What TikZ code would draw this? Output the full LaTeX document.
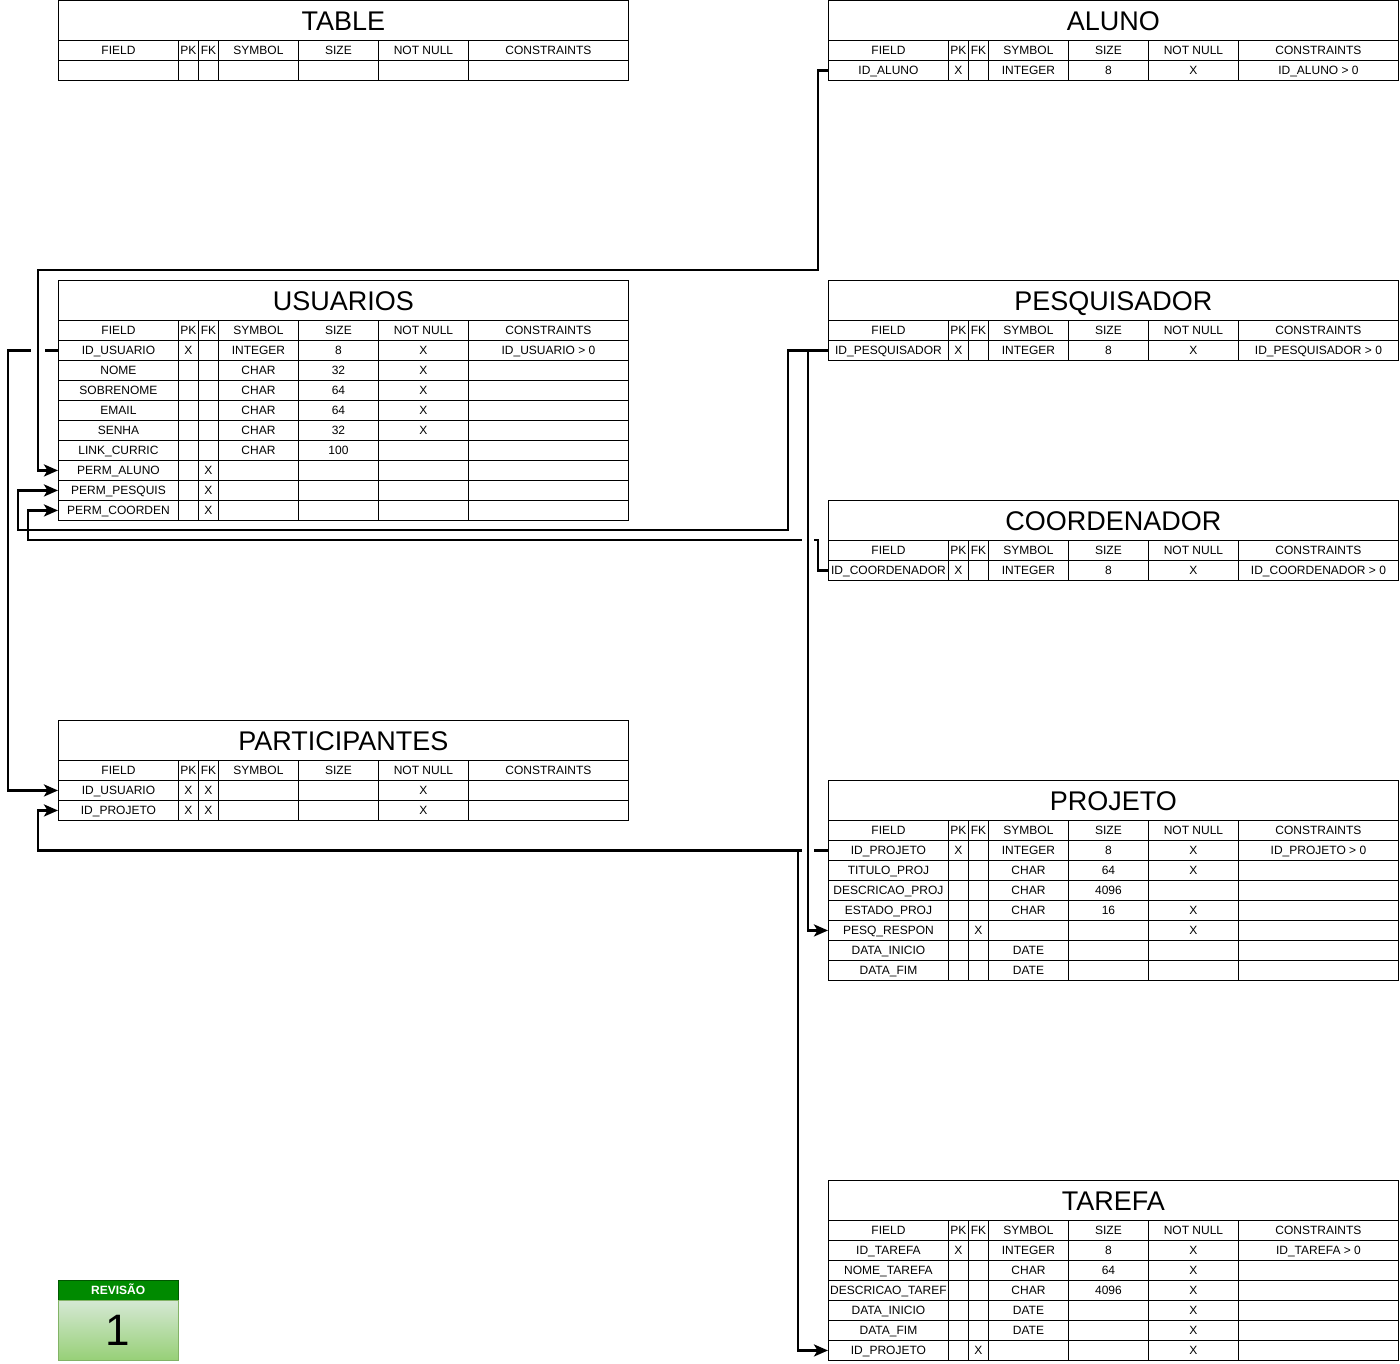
\documentclass[tikz,border=0pt]{standalone}
\usepackage{fontspec}
\setmainfont{Liberation Sans}
\usetikzlibrary{arrows.meta}
\newcount\rowk
\definecolor{revgreen}{HTML}{008A00}
\definecolor{revdark}{HTML}{005700}
\definecolor{revtop}{HTML}{D5E8D4}
\definecolor{revbot}{HTML}{97D077}
\definecolor{revedge}{HTML}{82B366}
\tikzset{
  cellbox/.style={draw=black, line width=0.9pt, inner sep=0pt, anchor=north west,
    minimum height=20pt, text height=8.6pt, text depth=0pt,
    font=\fontsize{12}{14}\selectfont},
  titlebox/.style={draw=black, line width=0.9pt, inner sep=0pt, anchor=north west,
    minimum width=570pt, minimum height=40pt, text height=19.4pt, text depth=0pt,
    font=\fontsize{27}{31}\selectfont},
  conn/.style={line width=2.6pt, -{Stealth[length=14pt,width=12pt,inset=3.5pt]}},
  gapfill/.style={fill=white},
  revhead/.style={draw=revdark, fill=revgreen, text=white, inner sep=0pt, anchor=north west,
    minimum width=120pt, minimum height=20pt, text height=8.6pt, text depth=0pt,
    font=\bfseries\fontsize{12}{14}\selectfont},
  revbody/.style={draw=revedge, top color=revtop, bottom color=revbot, inner sep=0pt,
    anchor=north west, minimum width=120pt, minimum height=60pt,
    font=\fontsize{44}{50}\selectfont},
}
\newcommand{\dbcells}[9]{%
  \pgfmathsetmacro\cy{#2}%
  \node[cellbox, minimum width=120pt] (#1) at (\tx,-\cy) {#3};
  \node[cellbox, minimum width=20pt] (#1-pk) at (\tx+120,-\cy) {#4};
  \node[cellbox, minimum width=20pt] (#1-fk) at (\tx+140,-\cy) {#5};
  \node[cellbox, minimum width=80pt] (#1-sym) at (\tx+160,-\cy) {#6};
  \node[cellbox, minimum width=80pt] (#1-size) at (\tx+240,-\cy) {#7};
  \node[cellbox, minimum width=90pt] (#1-nn) at (\tx+320,-\cy) {#8};
  \node[cellbox, minimum width=160pt] (#1-cons) at (\tx+410,-\cy) {#9};
}
\newcommand{\dbtable}[4]{%
  \def\tn{#1}\def\tx{#2}\def\ty{#3}\global\rowk=0
  \node[titlebox] (#1) at (#2,-#3) {#4};
  \dbcells{#1-head}{\ty+40}{FIELD}{PK}{FK}{SYMBOL}{SIZE}{NOT NULL}{CONSTRAINTS}%
}
\newcommand{\dbrow}[7]{%
  \global\advance\rowk by 1 \edef\rk{\the\rowk}%
  \dbcells{\tn-\rk}{\ty+40+20*\rk}{#1}{#2}{#3}{#4}{#5}{#6}{#7}%
}
\begin{document}
\begin{tikzpicture}[x=1pt,y=1pt]
\useasboundingbox (0,0) rectangle (1400,-1363);

% TABLE
\dbtable{table}{58}{0}{TABLE}
\dbrow{}{}{}{}{}{}{}

% ALUNO
\dbtable{aluno}{828}{0}{ALUNO}
\dbrow{ID\_ALUNO}{X}{}{INTEGER}{8}{X}{ID\_ALUNO > 0}

% USUARIOS
\dbtable{usuarios}{58}{280}{USUARIOS}
\dbrow{ID\_USUARIO}{X}{}{INTEGER}{8}{X}{ID\_USUARIO > 0}
\dbrow{NOME}{}{}{CHAR}{32}{X}{}
\dbrow{SOBRENOME}{}{}{CHAR}{64}{X}{}
\dbrow{EMAIL}{}{}{CHAR}{64}{X}{}
\dbrow{SENHA}{}{}{CHAR}{32}{X}{}
\dbrow{LINK\_CURRIC}{}{}{CHAR}{100}{}{}
\dbrow{PERM\_ALUNO}{}{X}{}{}{}{}
\dbrow{PERM\_PESQUIS}{}{X}{}{}{}{}
\dbrow{PERM\_COORDEN}{}{X}{}{}{}{}

% PESQUISADOR
\dbtable{pesquisador}{828}{280}{PESQUISADOR}
\dbrow{ID\_PESQUISADOR}{X}{}{INTEGER}{8}{X}{ID\_PESQUISADOR > 0}

% COORDENADOR
\dbtable{coordenador}{828}{500}{COORDENADOR}
\dbrow{ID\_COORDENADOR}{X}{}{INTEGER}{8}{X}{ID\_COORDENADOR > 0}

% PARTICIPANTES
\dbtable{participantes}{58}{720}{PARTICIPANTES}
\dbrow{ID\_USUARIO}{X}{X}{}{}{X}{}
\dbrow{ID\_PROJETO}{X}{X}{}{}{X}{}

% PROJETO
\dbtable{projeto}{828}{780}{PROJETO}
\dbrow{ID\_PROJETO}{X}{}{INTEGER}{8}{X}{ID\_PROJETO > 0}
\dbrow{TITULO\_PROJ}{}{}{CHAR}{64}{X}{}
\dbrow{DESCRICAO\_PROJ}{}{}{CHAR}{4096}{}{}
\dbrow{ESTADO\_PROJ}{}{}{CHAR}{16}{X}{}
\dbrow{PESQ\_RESPON}{}{X}{}{}{X}{}
\dbrow{DATA\_INICIO}{}{}{DATE}{}{}{}
\dbrow{DATA\_FIM}{}{}{DATE}{}{}{}

% TAREFA
\dbtable{tarefa}{828}{1180}{TAREFA}
\dbrow{ID\_TAREFA}{X}{}{INTEGER}{8}{X}{ID\_TAREFA > 0}
\dbrow{NOME\_TAREFA}{}{}{CHAR}{64}{X}{}
\dbrow{DESCRICAO\_TAREF}{}{}{CHAR}{4096}{X}{}
\dbrow{DATA\_INICIO}{}{}{DATE}{}{X}{}
\dbrow{DATA\_FIM}{}{}{DATE}{}{X}{}
\dbrow{ID\_PROJETO}{}{X}{}{}{X}{}

% REVISAO
\node[revhead] (revhead) at (58,-1280) {REVISÃO};
\node[revbody] (revbody) at (58,-1300) {1};

% connectors that get crossed (drawn first)
\draw[conn] (usuarios-1.west) -- ++(-50,0) |- (participantes-1.west);
\draw[conn] (coordenador-1.west) -- ++(-10,0) |- (28,-540) |- (usuarios-9.west);
\draw[conn] (projeto-1.west) -- ++(-790,0) |- (participantes-2.west);
\draw[conn] (projeto-1.west) -- ++(-30,0) |- (tarefa-6.west);

% line-jump gaps
\fill[gapfill] (31,-353.5) rectangle (45,-346.5);
\fill[gapfill] (802,-543.5) rectangle (814,-536.5);
\fill[gapfill] (802,-853.5) rectangle (814,-846.5);

% crossing connectors
\draw[conn] (aluno-1.west) -- ++(-10,0) |- (38,-270) |- (usuarios-7.west);
\draw[conn] (pesquisador-1.west) -- ++(-40,0) |- (18,-530) |- (usuarios-8.west);
\draw[conn] (pesquisador-1.west) -- ++(-20,0) |- (projeto-5.west);
\end{tikzpicture}
\end{document}
